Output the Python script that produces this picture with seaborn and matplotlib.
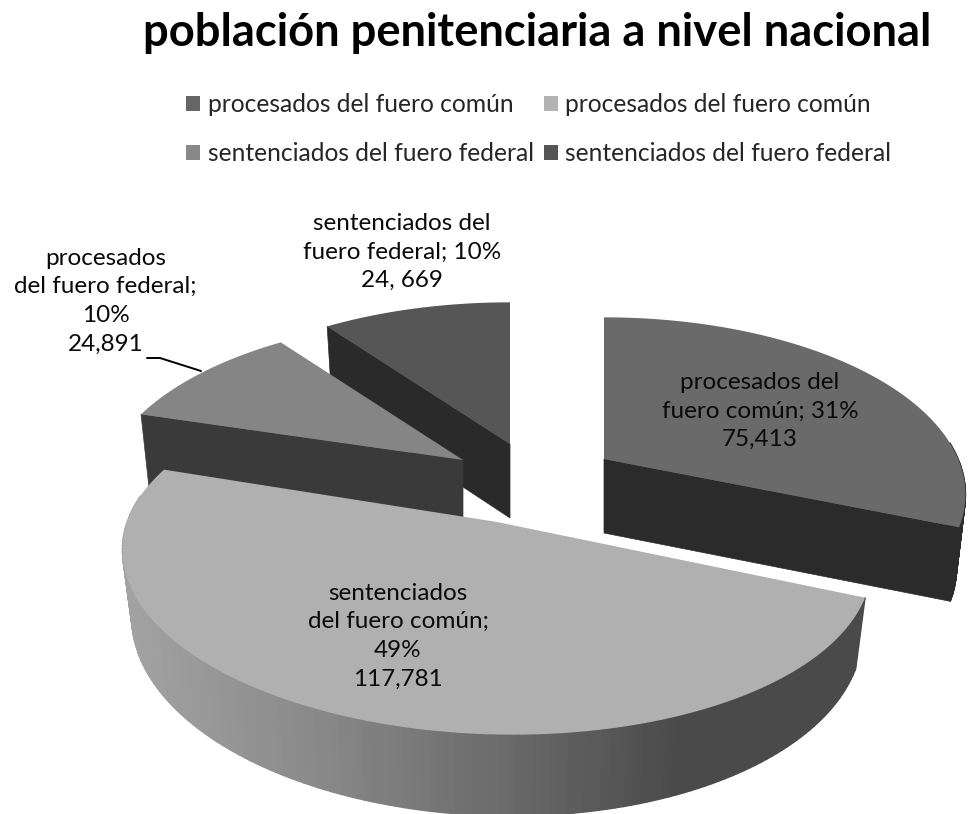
import numpy as np
import matplotlib
matplotlib.use("Agg")
import matplotlib.pyplot as plt
from matplotlib.patches import Patch
import seaborn as sns

# datos de la grafica
categorias = ["procesados del fuero común", "sentenciados del fuero común",
              "procesados del fuero federal", "sentenciados del fuero federal"]
poblacion = [75413, 117781, 24891, 24669]
leyenda = ["procesados del fuero común", "procesados del fuero común",
           "sentenciados del fuero federal", "sentenciados del fuero federal"]
etiquetas = ["procesados del\nfuero común; 31%\n75,413",
             "sentenciados\ndel fuero común;\n49%\n117,781",
             "procesados\ndel fuero federal;\n10%\n24,891",
             "sentenciados del\nfuero federal; 10%\n24, 669"]
titulo = "población penitenciaria a nivel nacional"

# estilo
color_top = ["#6a6a6a", "#b0b0b0", "#858585", "#565656"]
color_lado = ["#2b2b2b", "#777777", "#3a3a3a", "#2a2a2a"]
color_leyenda = ["#666666", "#b3b3b3", "#888888", "#555555"]
orden = [3, 2, 0, 1]  # de atras hacia adelante

# geometria del pastel (en pixeles)
cx, cy = 540, 482
R, B, k = 367, 170, 0.2
prof = 74
separa = [(64, -23), (-43, 40), (-77, -22), (-30, -38)]  # desplazamiento de cada rebanada
esc_x = [0.965, 1.0, 0.967, 0.97]
inclina = [0, 0.02, 0, 0]
pos_etq = [(760, 411), (398, 636), (105.5, 301), (402, 252)]

sns.set_theme(style="white")
plt.rcParams["font.family"] = ["Lato", "DejaVu Sans"]

fig = plt.figure(figsize=(9.68, 8.14), dpi=100)
ax = fig.add_axes([0, 0, 1, 1])
ax.set_xlim(0, 968)
ax.set_ylim(814, 0)
ax.axis("off")


def proyecta(theta, i):
    u, v = np.sin(theta), np.cos(theta)
    s = 1 / (1 + k * v)
    dx = R * esc_x[i] * u * s
    return cx + separa[i][0] + dx, cy + separa[i][1] - B * v * s + inclina[i] * dx


total = sum(poblacion)
cortes = np.concatenate([[0], np.cumsum(poblacion)]) / total * 2 * np.pi
grad = sns.blend_palette(["#a2a2a2", "#8a8a8a", "#6c6c6c", "#4a4a4a", "#4a4a4a"], 80)

for i in orden:
    t0, t1 = cortes[i], cortes[i + 1]
    ax0, ay0 = cx + separa[i][0], cy + separa[i][1]
    ts = np.linspace(t0, t1, 160)
    xs, ys = proyecta(ts, i)
    xb = ax0 + (xs - ax0) * 0.975
    if i == 1:
        hondo = 65 / (1 + k * np.cos(ts))
    else:
        hondo = np.full_like(ts, prof)

    # caras radiales que miran al frente
    for t, signo in ((t0, -1), (t1, 1)):
        if signo * np.sin(t) > 1e-9:
            xe, ye = proyecta(t, i)
            xe2 = ax0 + (xe - ax0) * 0.975
            ax.fill([ax0, xe, xe2, ax0], [ay0, ye, ye + prof, ay0 + prof],
                    color=color_lado[i], lw=0.5, zorder=1)

    # lado curvo, solo la parte visible
    for j in range(len(ts) - 1):
        if np.cos(ts[j]) > 0.1:
            continue
        if i == 1:
            f = np.clip((xs[j] - xs.min()) / (xs.max() - xs.min()), 0, 1)
            c = grad[int(f * (len(grad) - 1))]
        else:
            c = color_lado[i]
        ax.fill([xs[j], xs[j + 1], xb[j + 1], xb[j]],
                [ys[j], ys[j + 1], ys[j + 1] + hondo[j + 1], ys[j] + hondo[j]],
                color=c, lw=1, zorder=1)

    # cara superior
    ax.fill(np.r_[ax0, xs], np.r_[ay0, ys], color=color_top[i], lw=0, zorder=1)

for i, (px, py) in enumerate(pos_etq):
    ax.text(px, py, etiquetas[i], ha="center", va="center", fontsize=17.5,
            color="#0a0a0a", linespacing=1.45, zorder=3)

# linea guia de la etiqueta de procesados federales
ax.plot([147, 160, 201], [358, 358, 371], color="black", lw=1.4, zorder=2)

ax.text(537.5, 33, titulo, ha="center", va="center", fontsize=32.7,
        fontweight="bold", color="black")

handles = [Patch(facecolor=c, edgecolor="none") for c in color_leyenda]
# matplotlib llena la leyenda por columnas
h_ord = [handles[0], handles[2], handles[1], handles[3]]
l_ord = [leyenda[0], leyenda[2], leyenda[1], leyenda[3]]
ax.legend(h_ord, l_ord, ncols=2, loc="center left", bbox_to_anchor=(186 / 968, 1 - 129 / 814),
          frameon=False, fontsize=17.7, handlelength=0.58, handleheight=0.58,
          handletextpad=0.3, columnspacing=0.4, labelspacing=1.05, borderpad=0, borderaxespad=0)

fig.savefig("out.png", dpi=100)
